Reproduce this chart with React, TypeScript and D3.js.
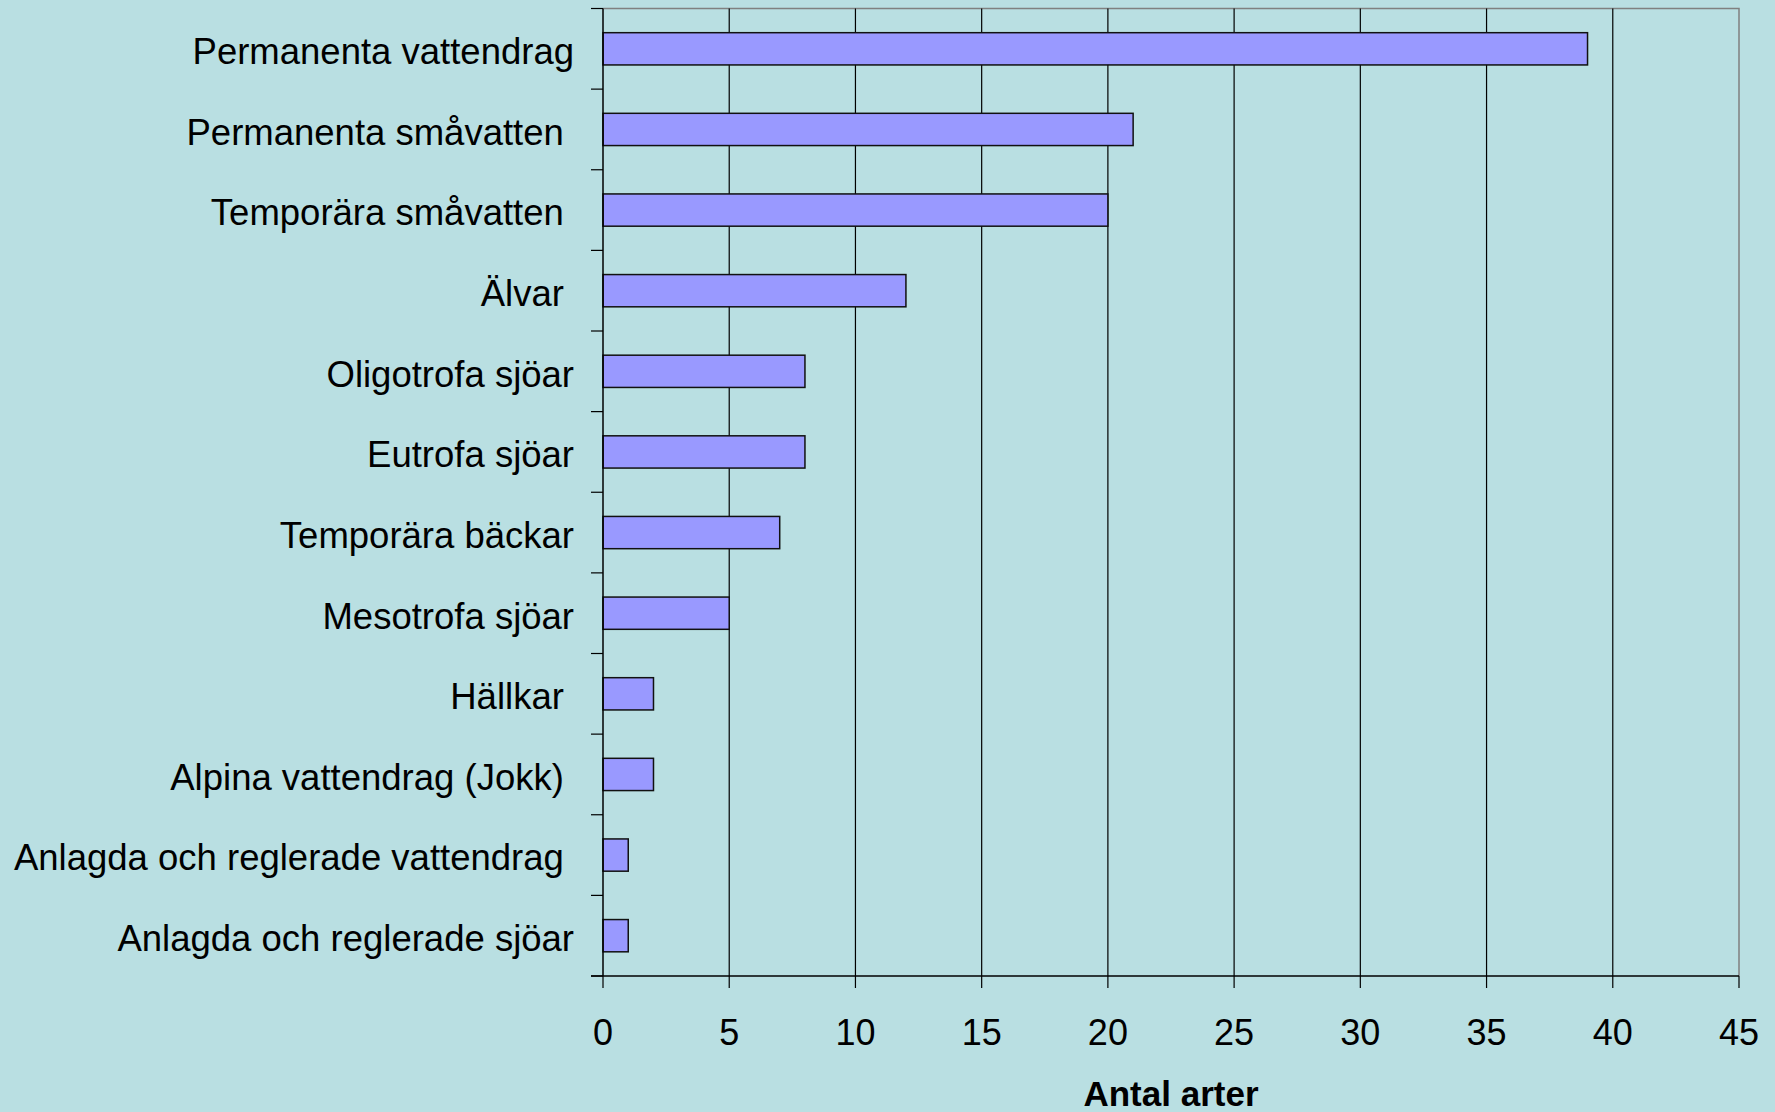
import React, { useEffect, useRef } from 'react';
import * as d3 from 'd3';

// habitat categories, top to bottom (trailing spaces kept as in the original labels)
const categories = [
  'Permanenta vattendrag',
  'Permanenta småvatten ',
  'Temporära småvatten ',
  'Älvar ',
  'Oligotrofa sjöar',
  'Eutrofa sjöar',
  'Temporära bäckar',
  'Mesotrofa sjöar',
  'Hällkar ',
  'Alpina vattendrag (Jokk) ',
  'Anlagda och reglerade vattendrag ',
  'Anlagda och reglerade sjöar',
];

const antalArter = [39, 21, 20, 12, 8, 8, 7, 5, 2, 2, 1, 1];

const xTicks = [0, 5, 10, 15, 20, 25, 30, 35, 40, 45];

const W = 1775;
const H = 1112;

export default function App() {
  const svgRef = useRef<SVGSVGElement>(null);

  useEffect(() => {
    if (!svgRef.current) return;
    const svg = d3.select(svgRef.current);
    svg.selectAll('*').remove();

    const margin = { top: 8.5, right: 36, bottom: 136, left: 603 };
    const right = W - margin.right;
    const bottom = H - margin.bottom;
    const font = '"Liberation Sans", Arial, sans-serif';

    svg.append('rect').attr('width', W).attr('height', H).attr('fill', '#B9DFE2');

    const x = d3.scaleLinear().domain([0, 45]).range([margin.left, right]);
    const y = d3.scaleBand<string>()
      .domain(categories)
      .range([margin.top, bottom])
      .paddingInner(0.6)
      .paddingOuter(0.3);
    const step = y.step();

    // frame: top and right in gray
    svg.append('path')
      .attr('d', `M${margin.left},${margin.top}H${right}V${bottom}`)
      .attr('fill', 'none')
      .attr('stroke', '#808080')
      .attr('stroke-width', 1.5);

    // vertical gridlines
    svg.append('g')
      .selectAll('line')
      .data(xTicks.slice(1, -1))
      .join('line')
      .attr('x1', d => x(d))
      .attr('x2', d => x(d))
      .attr('y1', margin.top)
      .attr('y2', bottom)
      .attr('stroke', '#000')
      .attr('stroke-width', 1.2);

    // bars
    svg.append('g')
      .selectAll('rect')
      .data(antalArter)
      .join('rect')
      .attr('x', x(0))
      .attr('y', (d, i) => y(categories[i]) || 0)
      .attr('width', d => x(d) - x(0))
      .attr('height', y.bandwidth())
      .attr('fill', '#9999FF')
      .attr('stroke', '#111')
      .attr('stroke-width', 1.5);

    // left axis
    const yAxis = svg.append('g');
    yAxis.append('line')
      .attr('x1', margin.left).attr('x2', margin.left)
      .attr('y1', margin.top).attr('y2', bottom)
      .attr('stroke', '#000').attr('stroke-width', 1.5);
    yAxis.selectAll('line.tick')
      .data(d3.range(categories.length + 1))
      .join('line')
      .attr('class', 'tick')
      .attr('x1', margin.left - 12).attr('x2', margin.left)
      .attr('y1', i => margin.top + i * step)
      .attr('y2', i => margin.top + i * step)
      .attr('stroke', '#000').attr('stroke-width', 1.2);
    yAxis.selectAll('text')
      .data(categories)
      .join('text')
      .attr('x', 574)
      .attr('y', d => (y(d) || 0) + y.bandwidth() / 2)
      .attr('dy', '0.42em')
      .attr('text-anchor', 'end')
      .attr('font-family', font)
      .attr('font-size', 36.5)
      .attr('fill', '#000')
      .style('white-space', 'pre')
      .text(d => d);

    // bottom axis
    const xAxis = svg.append('g');
    xAxis.append('line')
      .attr('x1', margin.left - 12).attr('x2', right)
      .attr('y1', bottom).attr('y2', bottom)
      .attr('stroke', '#000').attr('stroke-width', 1.5);
    xAxis.selectAll('line.tick')
      .data(xTicks)
      .join('line')
      .attr('class', 'tick')
      .attr('x1', d => x(d)).attr('x2', d => x(d))
      .attr('y1', bottom).attr('y2', bottom + 12)
      .attr('stroke', '#000').attr('stroke-width', 1.2);
    xAxis.selectAll('text')
      .data(xTicks)
      .join('text')
      .attr('x', d => x(d))
      .attr('y', 1045)
      .attr('text-anchor', 'middle')
      .attr('font-family', font)
      .attr('font-size', 36)
      .attr('fill', '#000')
      .text(d => d);

    // axis title (sits right at the bottom edge, as in the original)
    svg.append('text')
      .attr('x', (margin.left + right) / 2)
      .attr('y', 1106)
      .attr('text-anchor', 'middle')
      .attr('font-family', font)
      .attr('font-size', 35)
      .attr('font-weight', 'bold')
      .attr('fill', '#000')
      .text('Antal arter');
  }, []);

  return (
    <svg
      ref={svgRef}
      width={W}
      height={H}
      style={{ position: 'absolute', left: 0, top: 0, display: 'block' }}
    ></svg>
  );
}
